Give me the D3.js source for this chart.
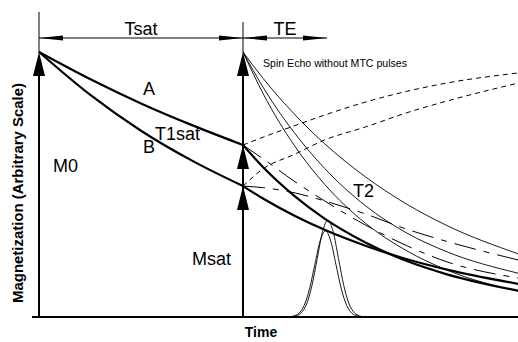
<!DOCTYPE html>
<html>
<head>
<meta charset="utf-8">
<script src="https://cdn.jsdelivr.net/npm/d3@7"></script>
<style>
  body { margin: 0; background: #fff; }
  svg { display: block; }
  text { font-family: "Liberation Sans", Arial, Helvetica, sans-serif; fill: #000; }
</style>
</head>
<body>
<svg id="chart" width="518" height="342"></svg>
<script>
// Timing (arbitrary units): saturation period, echo time, end of the plotted window
const T_SAT = 100;
const TE = 41.2;
const T_END = 235;

// Longitudinal magnetization levels
const M0 = 100;
const MSAT_A = 64.9;
const MSAT_B = 49.4;

// Saturation phase: decay of tissues A and B from M0 towards their saturated levels
const tPre = [0, 25, 50, 75, 100];
const satA = [100, 89.8, 80.6, 72.4, 64.9];
const satB = [100, 83.9, 70.3, 59.0, 49.4];

// After the excitation pulse
const tPost = [100, 110, 125, 140, 160, 180, 200, 235];
const decayA = [64.9, 56.4, 45.8, 37.1, 28.1, 21.2, 16.1, 9.9];
const decayB = [49.4, 44.6, 38.3, 32.9, 26.9, 21.9, 17.9, 12.5];
const seFast = [100, 84.1, 64.9, 50.1, 35.4, 25.1, 17.7, 9.7];
const seMid  = [100, 86.5, 69.7, 56.1, 42.0, 31.8, 24.6, 16.5];
const seSlow = [100, 89.9, 76.7, 65.4, 52.9, 42.7, 34.5, 23.8];
const recoverA = [64.9, 67.9, 72.1, 76.2, 81.1, 85.1, 88.3, 92.1];
const recoverB = [49.4, 56.0, 61.3, 66.8, 71.7, 77.0, 81.5, 88.3];
const t2A = [64.9, 59.6, 51.3, 43.8, 34.7, 27.0, 20.8, 14.7];
const t2B = [49.4, 48.8, 46.9, 43.8, 38.9, 33.2, 28.5, 21.5];

// Echo signals at TE
const echoTA = [123.6, 126.0, 128.6, 131.2, 133.8, 136.4, 139.0, 141.6, 144.2, 146.8, 149.4, 152.0, 154.6, 157.2, 159.6];
const echoA  = [0, 0.4, 1.6, 4.9, 11.9, 22.1, 32.2, 36.5, 32.2, 22.1, 11.9, 4.9, 1.6, 0.4, 0];
const echoTB = [122.4, 124.8, 127.4, 130.0, 132.6, 135.2, 137.8, 140.4, 143.0, 145.6, 148.2, 150.8, 153.4, 156.0, 158.4];
const echoB  = [0, 0.4, 1.4, 4.4, 10.6, 19.7, 28.7, 32.5, 28.7, 19.7, 10.6, 4.4, 1.4, 0.4, 0];

const svg = d3.select("#chart");
const x = d3.scaleLinear().domain([0, T_END]).range([39, 518.4]);
const y = d3.scaleLinear().domain([0, 100]).range([317, 52]);

const pts = (ts, ms) => ts.map((t, i) => [t, ms[i]]);
const line = d3.line().x(d => x(d[0])).y(d => y(d[1])).curve(d3.curveMonotoneX);

function curve(data, width, dash) {
  const p = svg.append("path")
    .attr("d", line(data))
    .attr("fill", "none")
    .attr("stroke", "#000")
    .attr("stroke-width", width)
    .attr("stroke-linejoin", "round");
  if (dash) p.attr("stroke-dasharray", dash);
  return p;
}

// Baseline and time origin
svg.append("line").attr("x1", 32).attr("x2", 518).attr("y1", y(0)).attr("y2", y(0))
  .attr("stroke", "#000").attr("stroke-width", 2);
svg.append("line").attr("x1", x(0)).attr("x2", x(0)).attr("y1", 12).attr("y2", y(M0))
  .attr("stroke", "#000").attr("stroke-width", 1);
svg.append("line").attr("x1", x(T_SAT)).attr("x2", x(T_SAT)).attr("y1", 22).attr("y2", y(M0))
  .attr("stroke", "#000").attr("stroke-width", 1);

// Echo signals
curve(pts(echoTA, echoA), 0.9);
curve(pts(echoTB, echoB), 0.9);

// Spin echo without MTC pulses
curve(pts(tPost, seFast), 0.9);
curve(pts(tPost, seMid), 0.9);
curve(pts(tPost, seSlow), 0.9);

// T1 recovery from the saturated levels
curve(pts(tPost, recoverA), 1, "5,4");
curve(pts(tPost, recoverB), 1, "5,4");

// T2 decay from the saturated levels
curve(pts(tPost, t2A), 1, "22,8,6,8");
curve(pts(tPost, t2B), 1, "22,8,6,8");

// Saturation curves and signal decay with MTC
curve(pts(tPre, satA), 2.2);
curve(pts(tPre, satB), 2.2);
curve(pts(tPost, decayA), 2.2);
curve(pts(tPost, decayB), 2.2);

// Vertical magnetization vectors
function vArrow(t, mFrom, mTo) {
  svg.append("line").attr("x1", x(t)).attr("x2", x(t)).attr("y1", y(mFrom)).attr("y2", y(mTo) + 6)
    .attr("stroke", "#000").attr("stroke-width", 2);
  head(t, mTo);
}
function head(t, m) {
  const cx = x(t), cy = y(m);
  svg.append("path")
    .attr("d", `M${cx},${cy} L${cx - 6},${cy + 24} L${cx + 6},${cy + 24} Z`)
    .attr("fill", "#000");
}
vArrow(0, 0, M0);
vArrow(T_SAT, 0, M0);
head(T_SAT, MSAT_A);
head(T_SAT, MSAT_B);

// Timing dimension lines
const dimY = 38;
function dimHead(px, dir) {
  svg.append("path")
    .attr("d", `M${px},${dimY} L${px + dir * 24},${dimY - 2.5} L${px + dir * 24},${dimY + 2.5} Z`)
    .attr("fill", "#000");
}
svg.append("line").attr("x1", x(0)).attr("x2", x(T_SAT + TE)).attr("y1", dimY).attr("y2", dimY)
  .attr("stroke", "#000").attr("stroke-width", 1);
dimHead(x(0), 1);
dimHead(x(T_SAT), -1);
dimHead(x(T_SAT), 1);
dimHead(x(T_SAT + TE), -1);

// Labels
function label(txt, px, py, size, opts = {}) {
  const t = svg.append("text").attr("x", px).attr("y", py)
    .attr("font-size", size).text(txt);
  if (opts.anchor) t.attr("text-anchor", opts.anchor);
  if (opts.bold) t.attr("font-weight", "bold");
  if (opts.len) t.attr("textLength", opts.len).attr("lengthAdjust", "spacingAndGlyphs");
  return t;
}
label("Tsat", x(T_SAT / 2), 35, 18, { anchor: "middle" });
label("TE", x(T_SAT + TE / 2), 35, 18, { anchor: "middle" });
label("A", x(51), y(83.8), 18);
label("T1sat", x(56.9), y(66.8), 18);
label("B", x(51), y(61.9), 18);
label("M0", x(6.9), y(54.7), 18);
label("Msat", x(75), y(19.6), 18);
label("T2", x(153.9), y(45.3), 18);
label("Spin Echo without MTC pulses", x(109.8), y(94.3), 11, { len: 144 });
label("Time", x(T_SAT) + 18, 337, 14, { anchor: "middle", bold: true });
svg.append("text")
  .attr("transform", `translate(23,${193}) rotate(-90)`)
  .attr("text-anchor", "middle")
  .attr("font-size", 14.5)
  .attr("font-weight", "bold")
  .attr("textLength", 220).attr("lengthAdjust", "spacingAndGlyphs")
  .text("Magnetization (Arbitrary Scale)");
</script>
</body>
</html>
